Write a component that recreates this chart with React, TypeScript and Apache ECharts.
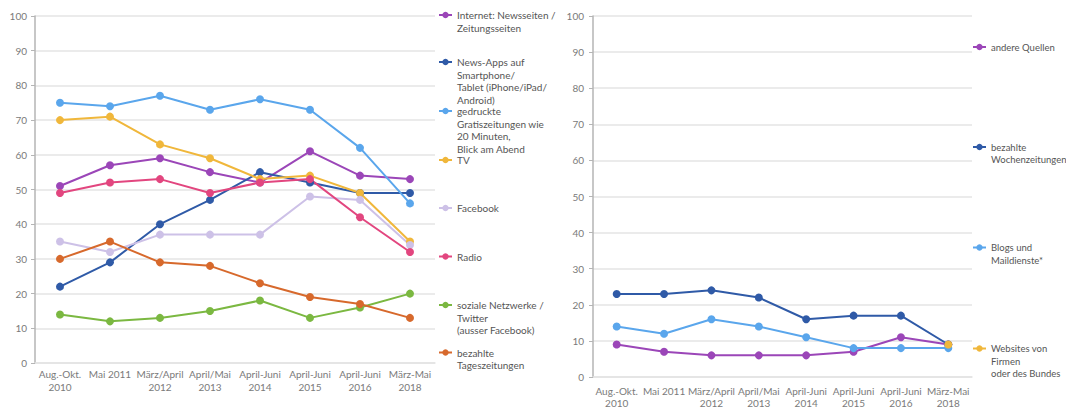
import React, { useEffect, useRef } from "react";
import * as echarts from "echarts";

const categories = [
  "Aug.-Okt.\n2010",
  "Mai 2011",
  "März/April\n2012",
  "April/Mai\n2013",
  "April-Juni\n2014",
  "April-Juni\n2015",
  "April-Juni\n2016",
  "März-Mai\n2018",
];

// left chart
const internetNews = [51, 57, 59, 55, 52, 61, 54, 53];
const newsApps = [22, 29, 40, 47, 55, 52, 49, 49];
const gratisZeitungen = [75, 74, 77, 73, 76, 73, 62, 46];
const tv = [70, 71, 63, 59, 53, 54, 49, 35];
const facebook = [35, 32, 37, 37, 37, 48, 47, 34];
const radio = [49, 52, 53, 49, 52, 53, 42, 32];
const sozialeNetzwerke = [14, 12, 13, 15, 18, 13, 16, 20];
const tageszeitungen = [30, 35, 29, 28, 23, 19, 17, 13];

// right chart
const andereQuellen = [9, 7, 6, 6, 6, 7, 11, 9];
const wochenzeitungen = [23, 23, 24, 22, 16, 17, 17, 9];
const blogs = [14, 12, 16, 14, 11, 8, 8, 8];
const websites = [null, null, null, null, null, null, null, 9];

const leftSeries = [
  { name: "Internet: Newsseiten /\nZeitungsseiten", data: internetNews, color: "#9b46b8", iconY: 15 },
  { name: "News-Apps auf\nSmartphone/\nTablet (iPhone/iPad/\nAndroid)", data: newsApps, color: "#2f5aa7", iconY: 62 },
  { name: "gedruckte\nGratiszeitungen wie\n20 Minuten,\nBlick am Abend", data: gratisZeitungen, color: "#5aa6ec", iconY: 111 },
  { name: "TV", data: tv, color: "#f0b73b", iconY: 160 },
  { name: "Facebook", data: facebook, color: "#cdc1e7", iconY: 208 },
  { name: "Radio", data: radio, color: "#e2467f", iconY: 256.5 },
  { name: "soziale Netzwerke /\nTwitter\n(ausser Facebook)", data: sozialeNetzwerke, color: "#7bb841", iconY: 305 },
  { name: "bezahlte\nTageszeitungen", data: tageszeitungen, color: "#d7692c", iconY: 352.5 },
];

const rightSeries = [
  { name: "andere Quellen", data: andereQuellen, color: "#9b46b8", iconY: 47 },
  { name: "bezahlte\nWochenzeitungen", data: wochenzeitungen, color: "#2f5aa7", iconY: 147 },
  { name: "Blogs und\nMaildienste*", data: blogs, color: "#5aa6ec", iconY: 247.5 },
  { name: "Websites von\nFirmen\noder des Bundes", data: websites, color: "#f0b73b", iconY: 348.5 },
];

const FONT = "Lato";
const LH = 12.6;

function makeLegend(s: { name: string; iconY: number }, left: number, fontSize: number) {
  const n = s.name.split("\n").length;
  return {
    left,
    top: s.iconY - ((2 * n - 1) * LH) / 2,
    orient: "vertical",
    padding: 0,
    itemWidth: 13,
    itemHeight: 8,
    selectedMode: false,
    data: [s.name],
    // leading blank lines keep the first text line level with the icon
    formatter: (name: string) => "\n".repeat(n - 1) + name,
    textStyle: {
      fontFamily: FONT,
      fontSize,
      lineHeight: LH,
      color: "#555",
    },
  };
}

export default function App() {
  const ref = useRef<HTMLDivElement>(null);
  useEffect(() => {
    const chart = echarts.init(ref.current!, null, { renderer: "svg" });
    const yAxisBase = {
      type: "value",
      min: 0,
      max: 100,
      interval: 10,
      axisLine: { show: true, lineStyle: { color: "#b5b5b5", width: 1.5 } },
      axisTick: { show: true, length: 4, lineStyle: { color: "#b5b5b5" } },
      axisLabel: { fontFamily: FONT, fontSize: 10, color: "#7a7a7a", margin: 8 },
      splitLine: { lineStyle: { color: "#e4e4e4", width: 1.5 } },
    };
    const xAxisBase = {
      type: "category",
      data: categories,
      boundaryGap: true,
      axisLine: { show: true, lineStyle: { color: "#e4e4e4", width: 1.5 } },
      axisTick: { show: false },
    };
    const mk = (s: any, idx: number) => ({
      type: "line",
      name: s.name,
      data: s.data,
      xAxisIndex: idx,
      yAxisIndex: idx,
      symbol: "circle",
      symbolSize: 8,
      itemStyle: { color: s.color },
      lineStyle: { color: s.color, width: 2 },
      emphasis: { disabled: true },
      connectNulls: false,
    });
    chart.setOption({
      animation: false,
      grid: [
        { left: 35, right: 631, top: 16, bottom: 46 },
        { left: 593, right: 94, top: 16, bottom: 31 },
      ],
      xAxis: [
        {
          ...xAxisBase,
          gridIndex: 0,
          axisLabel: { fontFamily: FONT, fontSize: 10, lineHeight: 13.5, color: "#7a7a7a", margin: 4, interval: 0 },
        },
        {
          ...xAxisBase,
          gridIndex: 1,
          axisLabel: { fontFamily: FONT, fontSize: 10, lineHeight: 12, color: "#7a7a7a", margin: 8, interval: 0 },
        },
      ],
      yAxis: [
        { ...yAxisBase, gridIndex: 0 },
        { ...yAxisBase, gridIndex: 1, axisLabel: { ...yAxisBase.axisLabel, margin: 9 } },
      ],
      legend: [
        ...leftSeries.map((s) => makeLegend(s, 438, 10)),
        ...rightSeries.map((s) => makeLegend(s, 972, 9.5)),
      ],
      series: [
        ...leftSeries.map((s) => mk(s, 0)),
        ...rightSeries.map((s) => mk(s, 1)),
      ],
    });
    return () => chart.dispose();
  }, []);
  return (
    <div
      ref={ref}
      style={{ position: "absolute", left: 0, top: 0, width: 1066, height: 409, background: "#fff" }}
    />
  );
}
